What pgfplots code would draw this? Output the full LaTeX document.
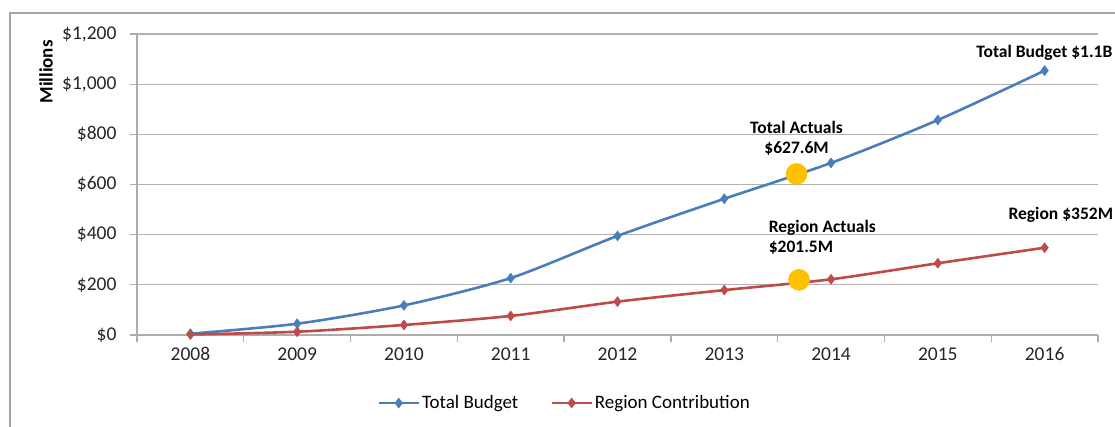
\documentclass[border=0pt]{standalone}
\usepackage{fontspec}
\setmainfont{Carlito}
\usepackage{pgfplots}
\pgfplotsset{compat=1.18}
\definecolor{budgetblue}{RGB}{74,126,187}
\definecolor{regionred}{RGB}{190,75,72}
\definecolor{actualgold}{RGB}{255,192,0}
\begin{document}
\begin{tikzpicture}
\begin{axis}[
    scale only axis,
    width=961pt, height=301pt,
    xmin=-0.5, xmax=8.5,
    ymin=0, ymax=1200,
    ytick={0,200,...,1200},
    yticklabel={\$\pgfmathprintnumber{\tick}},
    /pgf/number format/1000 sep={,},
    /pgf/number format/assume math mode=true,
    xtick={-0.5,0.5,...,8.5},
    xticklabels={},
    extra x ticks={0,1,...,8},
    extra x tick labels={2008,2009,2010,2011,2012,2013,2014,2015,2016},
    extra x tick style={grid=none, major tick length=0pt},
    ymajorgrids,
    grid style={gray!60, line width=1.3pt},
    axis x line*=bottom, axis y line*=left,
    axis line style={gray!65, line width=1.3pt, -},
    tick style={gray!65, line width=1.3pt},
    tick align=outside, major tick length=7pt,
    ticklabel style={font=\fontsize{19.5}{22}\selectfont, text=black!85},
    yticklabel style={xshift=-10pt},
    xticklabel style={yshift=-9pt},
    ylabel={Millions},
    ylabel style={font=\fontsize{19}{22}\selectfont\bfseries, at={(axis description cs:-0.0947,0.874)}, anchor=center},
    legend columns=2,
    legend style={draw=none, font=\fontsize{19}{22}\selectfont, at={(axis description cs:0.445,-0.226)}, anchor=center,
        /tikz/every even column/.append style={column sep=30pt}},
    legend image code/.code={\draw[mark repeat=2,mark phase=2,#1] plot coordinates {(0pt,0pt) (20pt,0pt) (40pt,0pt)};},
    clip=false,
    every axis plot/.append style={line width=2.6pt, smooth, tension=0.45, mark=diamond*, mark size=5pt,
        mark options={line width=0.5pt}},
]
\coordinate (O) at (rel axis cs:0,0);
\addplot[color=budgetblue] coordinates {
    (0,5) (1,45) (2,118) (3,227) (4,395) (5,543) (6,686) (7,857) (8,1054)
};
\addlegendentry{Total Budget}
\addplot[color=regionred] coordinates {
    (0,2) (1,13) (2,40) (3,76) (4,133) (5,179) (6,222) (7,286) (8,348)
};
\addlegendentry{Region Contribution}
\addplot[only marks, mark=*, mark size=10.5pt, color=actualgold, forget plot] coordinates {
    (5.677,642) (5.70,220)
};
\begin{scope}[font=\fontsize{17.5}{20}\selectfont\bfseries, inner sep=0pt]
\node[anchor=west] at (axis cs:7.36,1124) {Total Budget \$1.1B};
\node[align=center] at (axis cs:5.677,785) {Total Actuals\\\$627.6M};
\node[align=left, anchor=west] at (axis cs:5.415,391) {Region Actuals\\\$201.5M};
\node[anchor=west] at (axis cs:7.66,478) {Region \$352M};
\end{scope}
\end{axis}
\draw[gray!70, line width=2pt] ([shift={(-127pt,-105pt)}]O) rectangle ([shift={(990pt,322pt)}]O);
\pgfresetboundingbox
\path[use as bounding box] ([shift={(-137pt,-92pt)}]O) rectangle ([shift={(978pt,335pt)}]O);
\end{tikzpicture}
\end{document}
